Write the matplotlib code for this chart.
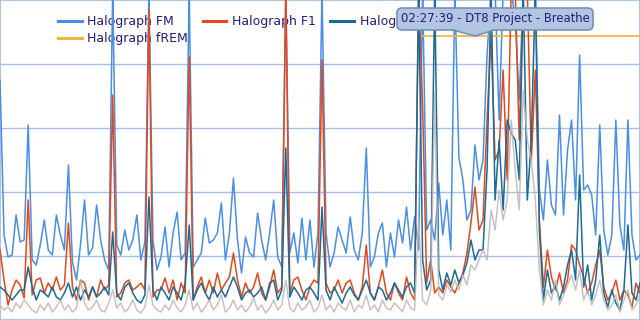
import numpy as np
import matplotlib
matplotlib.use("Agg")
import matplotlib.pyplot as plt
from matplotlib.patches import FancyBboxPatch, Polygon
from matplotlib.lines import Line2D
from matplotlib.transforms import IdentityTransform

# ---------------- data (amplitude, arbitrary units; one sample per time step) ----------------
fm = [240, 85, 63, 65, 105, 78, 80, 195,
      60, 55, 75, 100, 70, 65, 105, 85,
      70, 155, 58, 40, 75, 120, 65, 72,
      115, 80, 60, 50, 330, 75, 65, 90,
      70, 80, 105, 60, 78, 330, 80, 50,
      63, 93, 53, 87, 108, 60, 67, 330,
      53, 60, 67, 102, 77, 80, 87, 117,
      60, 87, 142, 80, 47, 83, 67, 63,
      107, 80, 60, 87, 120, 63, 53, 330,
      67, 87, 57, 102, 60, 100, 53, 87,
      330, 87, 53, 67, 93, 80, 67, 103,
      70, 60, 87, 172, 53, 63, 87, 97,
      53, 87, 63, 100, 77, 113, 70, 103,
      70, 330, 90, 100, 80, 137, 85, 120,
      70, 330, 163, 140, 100, 110, 175, 140,
      160, 265, 330, 330, 200, 330, 330, 330,
      300, 220, 330, 330, 330, 330, 130, 100,
      160, 115, 105, 205, 105, 170, 200, 120,
      265, 130, 135, 125, 85, 195, 90, 65,
      85, 200, 95, 70, 200, 85, 60, 65]

f1 = [70, 40, 15, 30, 40, 35, 22, 120,
      25, 40, 42, 27, 37, 30, 43, 30,
      35, 97, 33, 20, 40, 37, 20, 33,
      23, 40, 30, 35, 225, 23, 27, 37,
      40, 30, 33, 37, 30, 310, 23, 30,
      30, 42, 27, 40, 20, 37, 27, 263,
      20, 33, 43, 27, 40, 27, 47, 30,
      37, 43, 67, 40, 23, 37, 27, 33,
      47, 27, 20, 33, 50, 27, 33, 330,
      27, 40, 43, 30, 20, 33, 40, 37,
      260, 37, 27, 30, 40, 27, 37, 40,
      27, 20, 33, 75, 27, 20, 33, 50,
      27, 20, 37, 27, 20, 43, 27, 20,
      330, 213, 37, 60, 27, 33, 27, 40,
      33, 27, 37, 47, 67, 97, 133, 90,
      100, 200, 283, 160, 170, 250, 140, 330,
      330, 180, 330, 330, 160, 250, 100, 33,
      70, 43, 30, 47, 27, 40, 75, 70,
      55, 43, 27, 37, 55, 70, 33, 20,
      27, 40, 20, 30, 25, 13, 37, 27]

f2 = [33, 30, 25, 20, 25, 30, 30, 53,
      33, 20, 30, 27, 23, 33, 23, 20,
      27, 37, 23, 33, 20, 30, 23, 33,
      23, 27, 33, 25, 88, 27, 20, 33,
      37, 27, 20, 17, 25, 123, 30, 20,
      33, 27, 20, 33, 27, 20, 37, 95,
      20, 30, 37, 27, 20, 33, 23, 30,
      23, 33, 43, 33, 20, 27, 30, 23,
      27, 33, 20, 37, 40, 20, 30, 172,
      23, 33, 27, 20, 30, 33, 27, 20,
      113, 30, 20, 33, 25, 17, 27, 33,
      25, 20, 30, 40, 27, 20, 33, 30,
      20, 27, 37, 30, 23, 33, 37, 27,
      330, 60, 30, 40, 330, 50, 30, 47,
      35, 50, 37, 45, 57, 80, 60, 70,
      70, 150, 330, 120, 180, 110, 200, 187,
      180, 140, 330, 120, 180, 330, 90, 20,
      50, 27, 35, 20, 33, 55, 70, 40,
      145, 33, 55, 20, 40, 85, 27, 13,
      30, 17, 10, 30, 95, 27, 20, 37]

grey = [15, 10, 13, 8, 17, 12, 20, 15,
        10, 7, 15, 10, 17, 8, 13, 20,
        10, 15, 8, 12, 40, 17, 10, 13,
        20, 10, 8, 17, 30, 12, 17, 8,
        12, 20, 10, 7, 13, 35, 15, 10,
        8, 15, 10, 20, 12, 8, 15, 30,
        10, 17, 8, 13, 20, 10, 15, 25,
        8, 12, 20, 10, 15, 8, 13, 22,
        10, 15, 7, 12, 20, 10, 15, 40,
        12, 8, 17, 10, 13, 20, 8, 12,
        25, 10, 15, 8, 17, 12, 10, 20,
        8, 15, 12, 25, 10, 15, 8, 20,
        12, 10, 17, 13, 8, 20, 12, 10,
        100, 20, 15, 30, 227, 25, 20, 35,
        28, 40, 30, 45, 35, 55, 50, 60,
        70, 60, 110, 90, 130, 100, 120, 200,
        150, 110, 230, 180, 160, 120, 50, 15,
        30, 20, 40, 15, 25, 35, 45, 30,
        50, 20, 30, 15, 25, 40, 20, 10,
        15, 25, 8, 20, 30, 10, 15, 25]

frem_level = 284
frem_start = 104          # sample index where fREM begins

labels = ["Halograph FM", "Halograph F1", "Halograph F2", "Halograph fREM"]
grid_levels = [64, 128, 192, 256]
tooltip_text = "02:27:39 - DT8 Project - Breathe"

# ---------------- styling ----------------
c_fm = "#4a8fe6"
c_f1 = "#e2491c"
c_f2 = "#1c6a96"
c_frem = "#f8b13c"
c_grey = "#b9b9b9"
text_c = "#2a1a7e"

fig = plt.figure(figsize=(6.4, 3.2), dpi=100)
fig.patch.set_facecolor("white")
ax = fig.add_axes([0, 0, 1, 1])

n = len(fm)
x = np.arange(n)
frem = np.full(n, np.nan)
frem[frem_start:] = frem_level

ax.set_xlim(0, n - 1)
ax.set_ylim(0, 320)
ax.set_yticks(grid_levels)
ax.yaxis.grid(True, color="#a8bfe4", lw=1.0)
ax.set_axisbelow(True)
ax.tick_params(left=False, bottom=False, labelleft=False, labelbottom=False)
for s in ax.spines.values():
    s.set_color("#b0c4e2")
    s.set_linewidth(1.5)

lw = 1.1
ax.plot(x, fm, color=c_fm, lw=lw, zorder=3)
ax.plot(x, f1, color=c_f1, lw=lw, zorder=4)
ax.plot(x, f2, color=c_f2, lw=lw, zorder=5)
ax.plot(x, grey, color=c_grey, lw=lw, alpha=0.85, zorder=6)
ax.plot(x, frem, color=c_frem, lw=1.2, zorder=3)

handles = [Line2D([], [], color=c_fm, lw=2.2), Line2D([], [], color=c_frem, lw=2.2),
           Line2D([], [], color=c_f1, lw=2.2), Line2D([], [], color=c_f2, lw=2.2)]
leg = ax.legend(handles, [labels[0], labels[3], labels[1], labels[2]], ncol=3,
                loc="upper left", bbox_to_anchor=(58 / 640, 1 - 15 / 320),
                frameon=False, fontsize=9, handlelength=1.9, handletextpad=0.45,
                columnspacing=1.15, labelspacing=0.32, borderpad=0, borderaxespad=0,
                labelcolor=text_c)
leg.set_zorder(2)

# ---------------- tooltip (pixel coords, origin bottom-left) ----------------
T = IdentityTransform()
bx0, bx1, by0, by1 = 397, 593, 320 - 30, 320 - 8
box = FancyBboxPatch((bx0, by0), bx1 - bx0, by1 - by0,
                     boxstyle="round,pad=0,rounding_size=5",
                     facecolor="#b2c6e2", edgecolor="#7591bd", lw=1.2,
                     transform=T, zorder=20)
fig.add_artist(box)
tip = Polygon([(453, by0 + 1.2), (475, 320 - 36), (494, by0 + 1.2)], closed=True,
              facecolor="#b2c6e2", edgecolor="none", transform=T, zorder=21)
fig.add_artist(tip)
fig.add_artist(Line2D([453, 475, 494], [by0, 320 - 36, by0], color="#7591bd",
                      lw=1.2, transform=T, zorder=22))
fig.text((bx0 + bx1) / 2 / 640, (by0 + by1) / 2 / 320 + 0.003, tooltip_text,
         ha="center", va="center", fontsize=8.4, color=text_c, zorder=23)

fig.savefig("out.png", dpi=100)
